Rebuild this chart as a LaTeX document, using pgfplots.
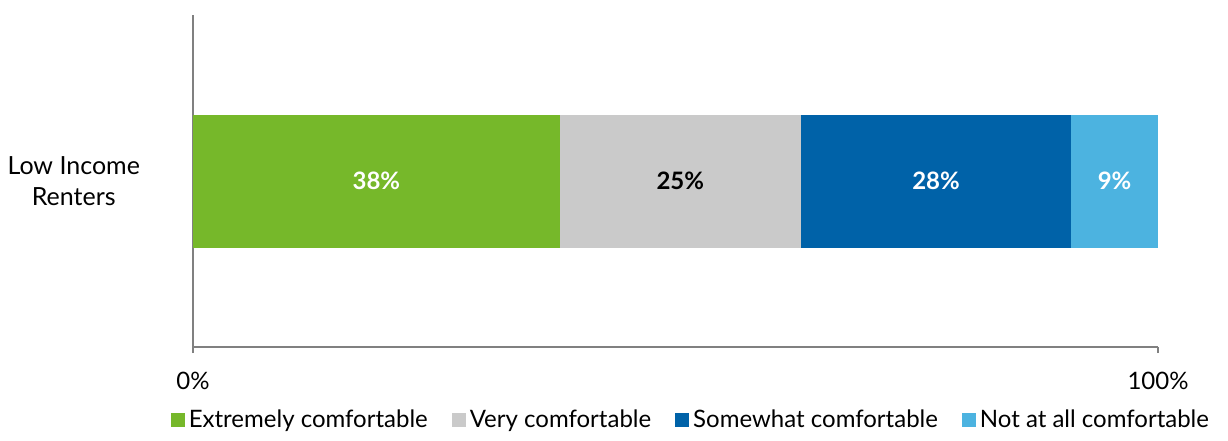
\documentclass[border=0pt]{standalone}
\usepackage{fontspec}
\setmainfont{Lato}
\usepackage{pgfplots}
\pgfplotsset{compat=1.18}
\definecolor{cgreen}{HTML}{76B82A}
\definecolor{cgray}{HTML}{CACACA}
\definecolor{cblue}{HTML}{0062A8}
\definecolor{clight}{HTML}{4CB3E0}
\definecolor{axgray}{HTML}{808080}
\begin{document}
\begin{tikzpicture}
\useasboundingbox (-96.5pt,-46.5pt) rectangle (517.5pt,173.5pt);
\begin{axis}[
  at={(0,0)}, anchor=south west,
  scale only axis, width=482.5pt, height=166pt,
  xbar stacked, bar width=66.5pt,
  xmin=0, xmax=100, ymin=-1, ymax=1,
  axis x line*=bottom, axis y line*=left,
  axis line style={draw=axgray, line width=0.8pt, -},
  xtick={0,100}, xticklabels={0\%,100\%},
  ytick={0}, yticklabels={Low Income\\Renters},
  yticklabel style={align=center, font=\fontsize{12.5}{15.5}\selectfont, xshift=-20pt},
  xticklabel style={font=\fontsize{12}{14}\selectfont, yshift=-6pt},
  tick align=outside, major tick length=3pt,
  xtick style={draw=axgray, line width=0.8pt},
  ytick style={draw=none},
  legend style={at={(0.517,-0.22)}, anchor=center, draw=none, fill=none,
    legend columns=-1, font=\fontsize{12}{14}\selectfont,
    /tikz/every even column/.append style={column sep=10pt}},
  legend image code/.code={\fill[#1] (0pt,-3.5pt) rectangle (7pt,3.5pt);},
  nodes near coords, point meta=explicit symbolic,
  every node near coord/.append style={anchor=center, font=\bfseries\fontsize{12}{14}\selectfont},
]
\addplot[fill=cgreen, draw=none, every node near coord/.append style={text=white}] coordinates {(38,0)[38\%]};
\addplot[fill=cgray, draw=none, every node near coord/.append style={text=black}] coordinates {(25,0)[25\%]};
\addplot[fill=cblue, draw=none, every node near coord/.append style={text=white}] coordinates {(28,0)[28\%]};
\addplot[fill=clight, draw=none, every node near coord/.append style={text=white}] coordinates {(9,0)[9\%]};
\legend{Extremely comfortable, Very comfortable, Somewhat comfortable, Not at all comfortable}
\end{axis}
\begin{axis}[
  at={(0,0)}, anchor=south west,
  scale only axis, width=482.5pt, height=166pt,
  xmin=0, xmax=100, ymin=-1, ymax=1, hide axis, clip=false,
]
\addplot[draw=axgray, line width=0.8pt, mark=none] coordinates {(0,-1) (100,-1)};
\end{axis}
\end{tikzpicture}
\end{document}
